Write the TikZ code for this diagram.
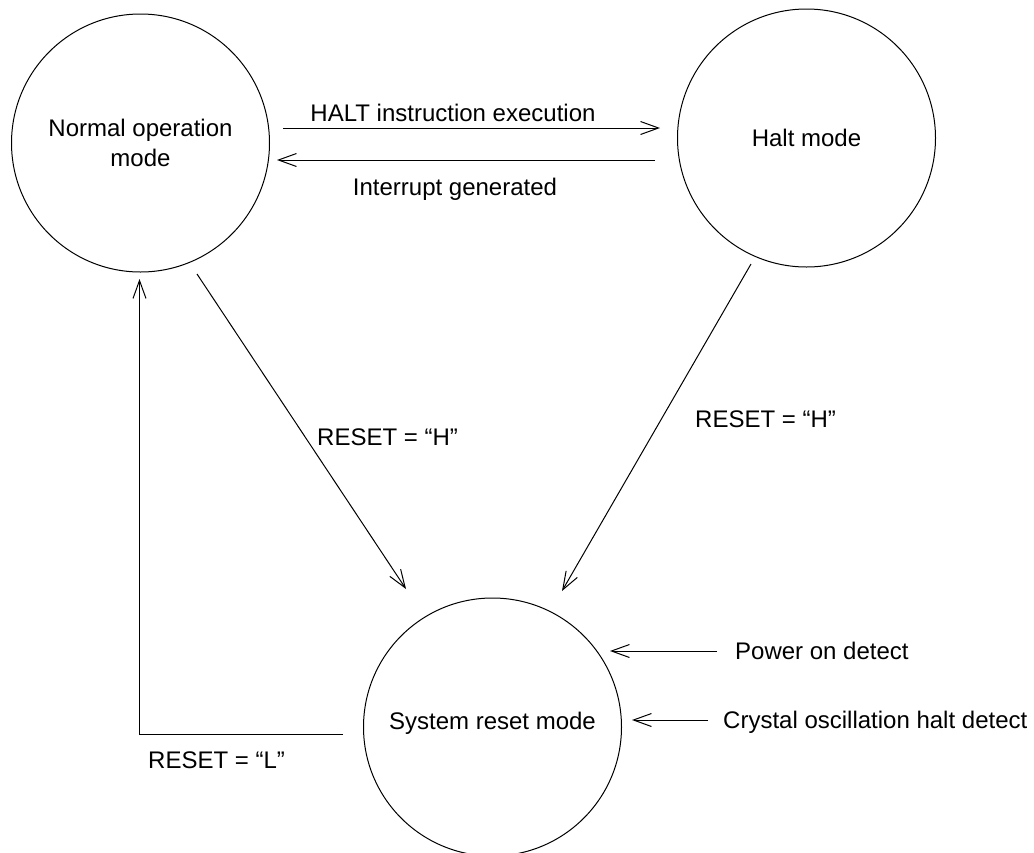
\documentclass[tikz,border=0pt]{standalone}
\usepackage{fontspec}
\setmainfont{Liberation Sans}
\usetikzlibrary{arrows.meta}
\begin{document}
\begin{tikzpicture}[x=1pt,y=-1pt,
  state/.style={draw,circle,line width=1pt,minimum size=258pt,inner sep=0pt,
    align=center,font=\fontsize{24}{30}\selectfont},
  lbl/.style={font=\fontsize{24}{29}\selectfont,inner sep=0pt},
  flow/.style={line width=1pt,-{Straight Barb[length=18pt,width=13pt,line width=1pt]}}]
\useasboundingbox (0,0) rectangle (1034,852);

% states
\node[state] (normal) at (140.5,143) {Normal operation\\mode};
\node[state] (halt)   at (806.5,138) {Halt mode};
\node[state] (reset)  at (492.5,727) {};
\node[lbl] (resettxt) at (492.5,723) {System reset mode};

% connector end points
\coordinate (hs)  at (283,128);   \coordinate (he)  at (660,128);
\coordinate (is)  at (655,160);   \coordinate (ie)  at (277,160);
\coordinate (ns)  at (197,274);   \coordinate (ne)  at (406,589);
\coordinate (hhs) at (751,264);   \coordinate (hhe) at (562,591);
\coordinate (ps)  at (717,651);   \coordinate (pe)  at (610,651);
\coordinate (cs)  at (708,720);   \coordinate (ce)  at (632,720);
\coordinate (ls)  at (343,734);   \coordinate (le)  at (139.5,279);

% transitions
\draw[flow] (hs) -- (he);
\draw[flow] (is) -- (ie);
\draw[flow] (ns) -- (ne);
\draw[flow] (hhs) -- (hhe);
\draw[flow] (ps) -- (pe);
\draw[flow] (cs) -- (ce);
\draw[flow] (ls) -| (le);

% labels
\node[lbl,anchor=base] (lhalt) at (453,121.6) {HALT instruction execution};
\node[lbl,anchor=base] (lint)  at (455,195.6) {Interrupt generated};
\node[lbl,anchor=base west] (lh1) at (317,445.6) {RESET = “H”};
\node[lbl,anchor=base west] (lh2) at (695,427.6) {RESET = “H”};
\node[lbl,anchor=base west] (ll)  at (148,768.6) {RESET = “L”};
\node[lbl,anchor=base west] (lpow) at (735,659.6) {Power on detect};
\node[lbl,anchor=base west] (lxtal) at (723,728.6) {Crystal oscillation halt detect};
\end{tikzpicture}
\end{document}
